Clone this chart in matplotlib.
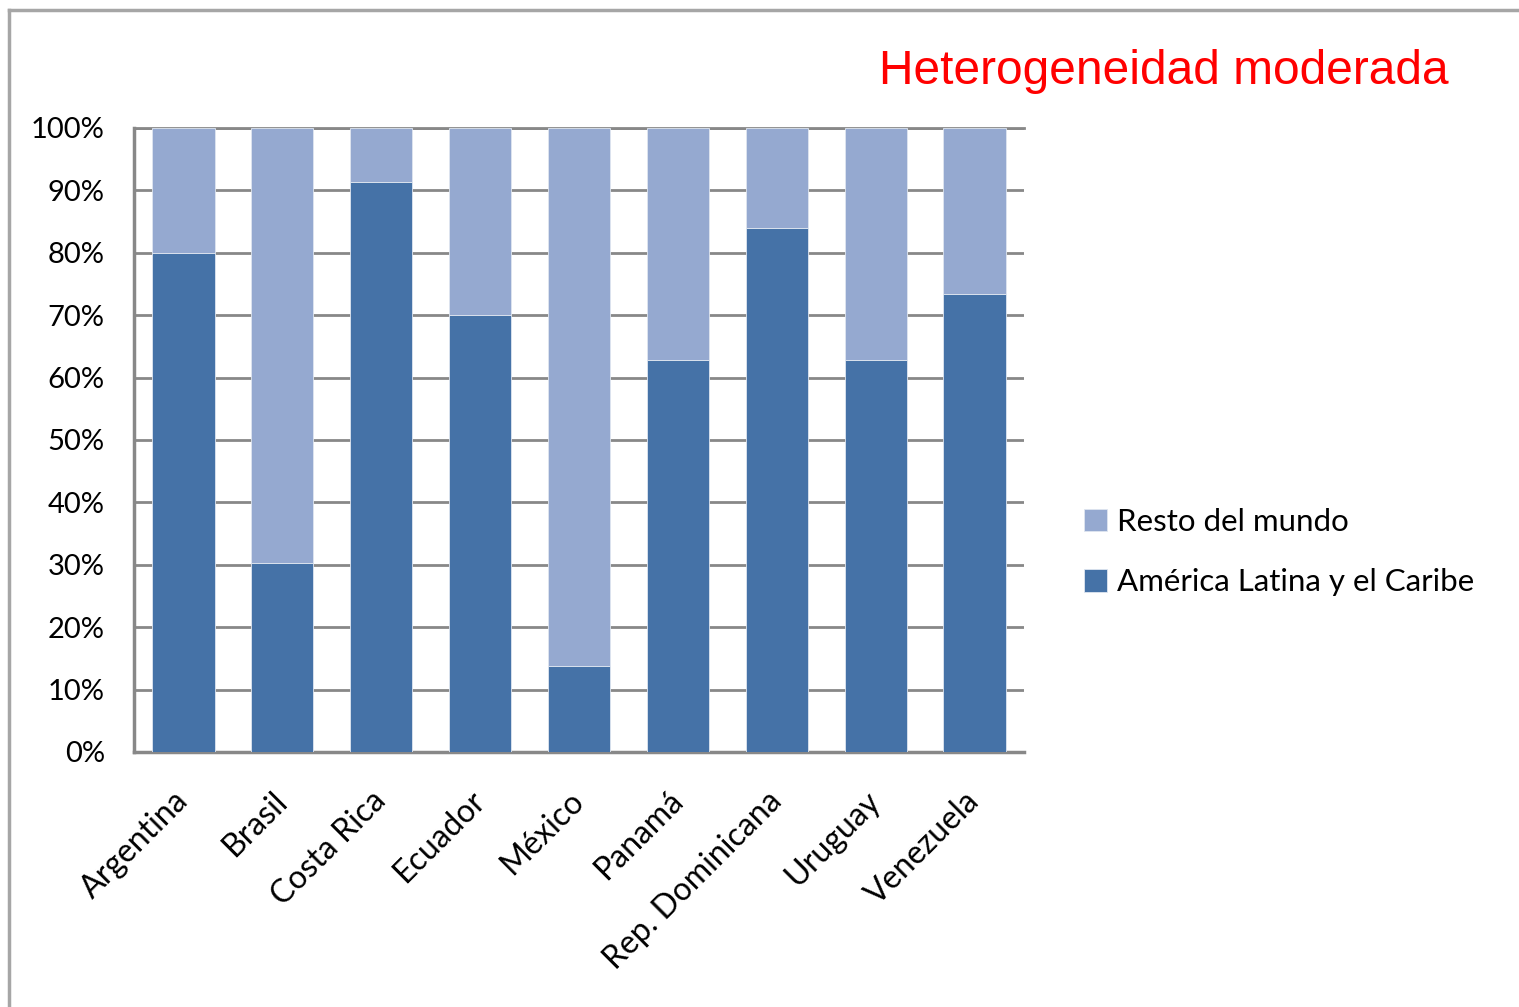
import matplotlib
matplotlib.use("agg")
import matplotlib.pyplot as plt
import numpy as np
from matplotlib.lines import Line2D

plt.rcParams["font.family"] = ["Lato", "DejaVu Sans"]

countries = ["Argentina", "Brasil", "Costa Rica", "Ecuador", "México",
             "Panamá", "Rep. Dominicana", "Uruguay", "Venezuela"]
# share of exports going to Latin America and the Caribbean
america_latina = [0.80, 0.303, 0.913, 0.70, 0.138, 0.628, 0.84, 0.628, 0.734]
resto_mundo = [1 - v for v in america_latina]

dark = "#4572A7"
light = "#95A9D0"
grid_gray = "#888888"

W, H = 1519, 1007
fig = plt.figure(figsize=(W / 100, H / 100), dpi=100)
ax = fig.add_axes([134 / W, 1 - 752 / H, (1024 - 134) / W, (752 - 128) / H])

x = np.arange(len(countries))
ax.bar(x, america_latina, width=0.63, color=dark, edgecolor="#dfe6f0",
       linewidth=0.6, label="América Latina y el Caribe", zorder=3)
ax.bar(x, resto_mundo, width=0.63, bottom=america_latina, color=light,
       edgecolor="#dfe6f0", linewidth=0.6, label="Resto del mundo", zorder=3)

ax.set_xlim(-0.5, len(countries) - 0.5)
ax.set_ylim(0, 1)
ax.set_yticks(np.arange(0, 1.01, 0.1))
ax.set_yticklabels([f"{int(round(v * 100))}%" for v in np.arange(0, 1.01, 0.1)])
ax.yaxis.grid(True, color=grid_gray, linewidth=2, zorder=0)
ax.set_axisbelow(True)

ax.set_xticks(x)
ax.set_xticklabels(countries, rotation=45, ha="right", va="center",
                   rotation_mode="anchor")
ax.tick_params(axis="y", length=0, pad=21, labelsize=21)
ax.tick_params(axis="x", length=0, pad=32, labelsize=23)

ax.spines["right"].set_visible(False)
for s in ["left", "bottom", "top"]:
    ax.spines[s].set_color(grid_gray)
    ax.spines[s].set_linewidth(2.5)
ax.spines["top"].set_linewidth(2)

handles, labels = ax.get_legend_handles_labels()
fig.legend(handles[::-1], labels[::-1], loc="center left",
           bbox_to_anchor=(1056 / W, 1 - 552 / H), frameon=False,
           fontsize=22.5, handlelength=0.72, handleheight=0.72,
           handletextpad=0.33, labelspacing=1.05)

fig.text(879 / W, 1 - 84 / H, "Heterogeneidad moderada", color="red",
         fontsize=34.5, family="Liberation Sans", ha="left", va="baseline")

# outer frame of the slide
frame_col = "#a6a6a6"
fig.add_artist(Line2D([9 / W, 1], [1 - 10 / H, 1 - 10 / H],
                      transform=fig.transFigure, color=frame_col, linewidth=2.5))
fig.add_artist(Line2D([9 / W, 9 / W], [0, 1 - 10 / H],
                      transform=fig.transFigure, color=frame_col, linewidth=2.5))

fig.savefig("out.png", dpi=100)
plt.close(fig)
